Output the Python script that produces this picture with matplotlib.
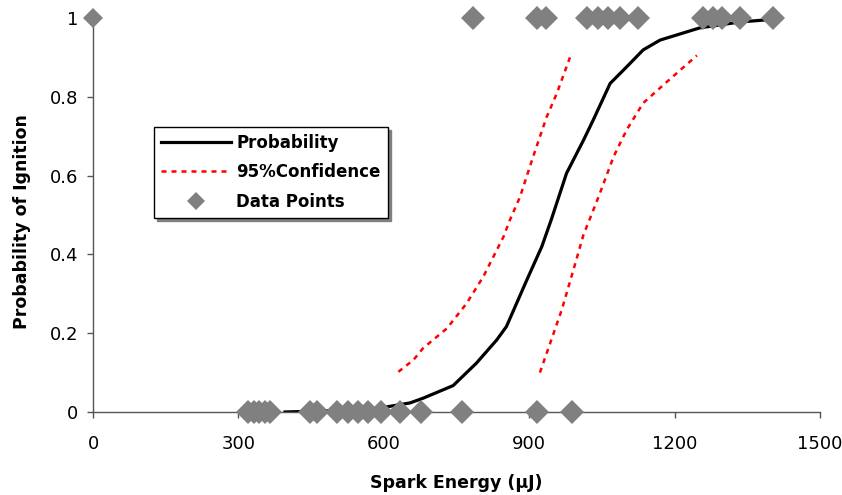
import matplotlib
matplotlib.use("Agg")
import matplotlib.pyplot as plt
from matplotlib.ticker import FormatStrFormatter

# ===== DATA =====
prob_energy = [396, 454, 560, 606, 654, 681, 743, 791, 833, 853, 895, 926, 946,
               977, 1012, 1032, 1067, 1101, 1135, 1170, 1252, 1335, 1407]
prob_value = [0.0, 0.002, 0.006, 0.013, 0.023, 0.035, 0.067, 0.124, 0.183, 0.217,
              0.335, 0.42, 0.49, 0.606, 0.690, 0.741, 0.834, 0.876, 0.919, 0.944,
              0.975, 0.99, 0.997]

ci_low_energy = [630, 661, 681, 730, 771, 805, 833, 847, 860, 881, 908, 936, 957, 984]
ci_low_value = [0.102, 0.132, 0.162, 0.212, 0.276, 0.343, 0.411, 0.445, 0.487,
                0.546, 0.648, 0.749, 0.809, 0.9]

ci_high_energy = [922, 943, 967, 991, 1012, 1043, 1074, 1101, 1135, 1184, 1246]
ci_high_value = [0.1, 0.174, 0.259, 0.360, 0.45, 0.546, 0.648, 0.716, 0.784, 0.838, 0.905]

# ignition outcome: 0 = no ignition, 1 = ignition
no_ign_energy = [320, 332, 342, 355, 365, 448, 462, 503, 526, 547, 567, 594,
                 633, 677, 761, 915, 988]
ign_energy = [0, 785, 915, 935, 1019, 1042, 1063, 1087, 1125, 1259, 1279, 1298,
              1335, 1403]

x_ticks = [0, 300, 600, 900, 1200, 1500]
y_ticks = [0, 0.2, 0.4, 0.6, 0.8, 1]

# ===== PLOT =====
plt.rcParams["font.family"] = "DejaVu Sans"
point_color = "#808080"

fig = plt.figure(figsize=(8.42, 4.95), dpi=100)
ax = fig.add_axes([0.1105, 0.1677, 0.8634, 0.7959])

ax.plot(prob_energy, prob_value, color="black", linewidth=2.3,
        label="Probability", zorder=2)
ax.plot(ci_low_energy, ci_low_value, color="#FF0000", linewidth=1.8,
        linestyle=(0, (2, 2)), label="95%Confidence", zorder=2)
ax.plot(ci_high_energy, ci_high_value, color="#FF0000", linewidth=1.8,
        linestyle=(0, (2, 2)), zorder=2)

data_x = no_ign_energy + ign_energy
data_y = [0] * len(no_ign_energy) + [1] * len(ign_energy)

# the point sitting on the y axis is drawn a bit smaller in the original
n0 = len(no_ign_energy)
ax.plot(data_x[:n0] + data_x[n0 + 1:], data_y[:n0] + data_y[n0 + 1:],
        linestyle="none", marker="D", markersize=12.5,
        markerfacecolor=point_color, markeredgewidth=0, label="Data Points",
        clip_on=False, zorder=4)
ax.plot([data_x[n0]], [data_y[n0]],
        linestyle="none", marker="D", markersize=10,
        markerfacecolor=point_color, markeredgewidth=0, clip_on=False, zorder=4)

ax.set_xlim(0, 1500)
ax.set_ylim(0, 1)
ax.set_xticks(x_ticks)
ax.set_yticks(y_ticks)
ax.yaxis.set_major_formatter(FormatStrFormatter("%g"))

for side in ["top", "right"]:
    ax.spines[side].set_visible(False)
for side in ["left", "bottom"]:
    ax.spines[side].set_color("#555555")
    ax.spines[side].set_linewidth(1.0)

ax.tick_params(axis="both", direction="out", length=4.5, width=1.0,
               color="#555555", labelsize=13)
ax.tick_params(axis="x", pad=12)
ax.tick_params(axis="y", pad=6)

ax.set_xlabel("Spark Energy (\u03bcJ)", fontsize=12.5, fontweight="bold")
ax.set_ylabel("Probability of Ignition", fontsize=12.5, fontweight="bold")
ax.xaxis.set_label_coords(0.5, -0.158)
ax.yaxis.set_label_coords(-0.085, 0.484)

leg = ax.legend(loc="upper left", bbox_to_anchor=(0.0839, 0.724),
                borderaxespad=0, fancybox=False, edgecolor="black",
                framealpha=1, shadow={"color": point_color, "alpha": 1},
                prop={"weight": "bold", "size": 12},
                handlelength=4.2, handletextpad=0.3, labelspacing=0.68,
                borderpad=0.43, numpoints=1, markerscale=0.75)
leg.get_frame().set_linewidth(1.0)

fig.savefig("out.png", dpi=100)
